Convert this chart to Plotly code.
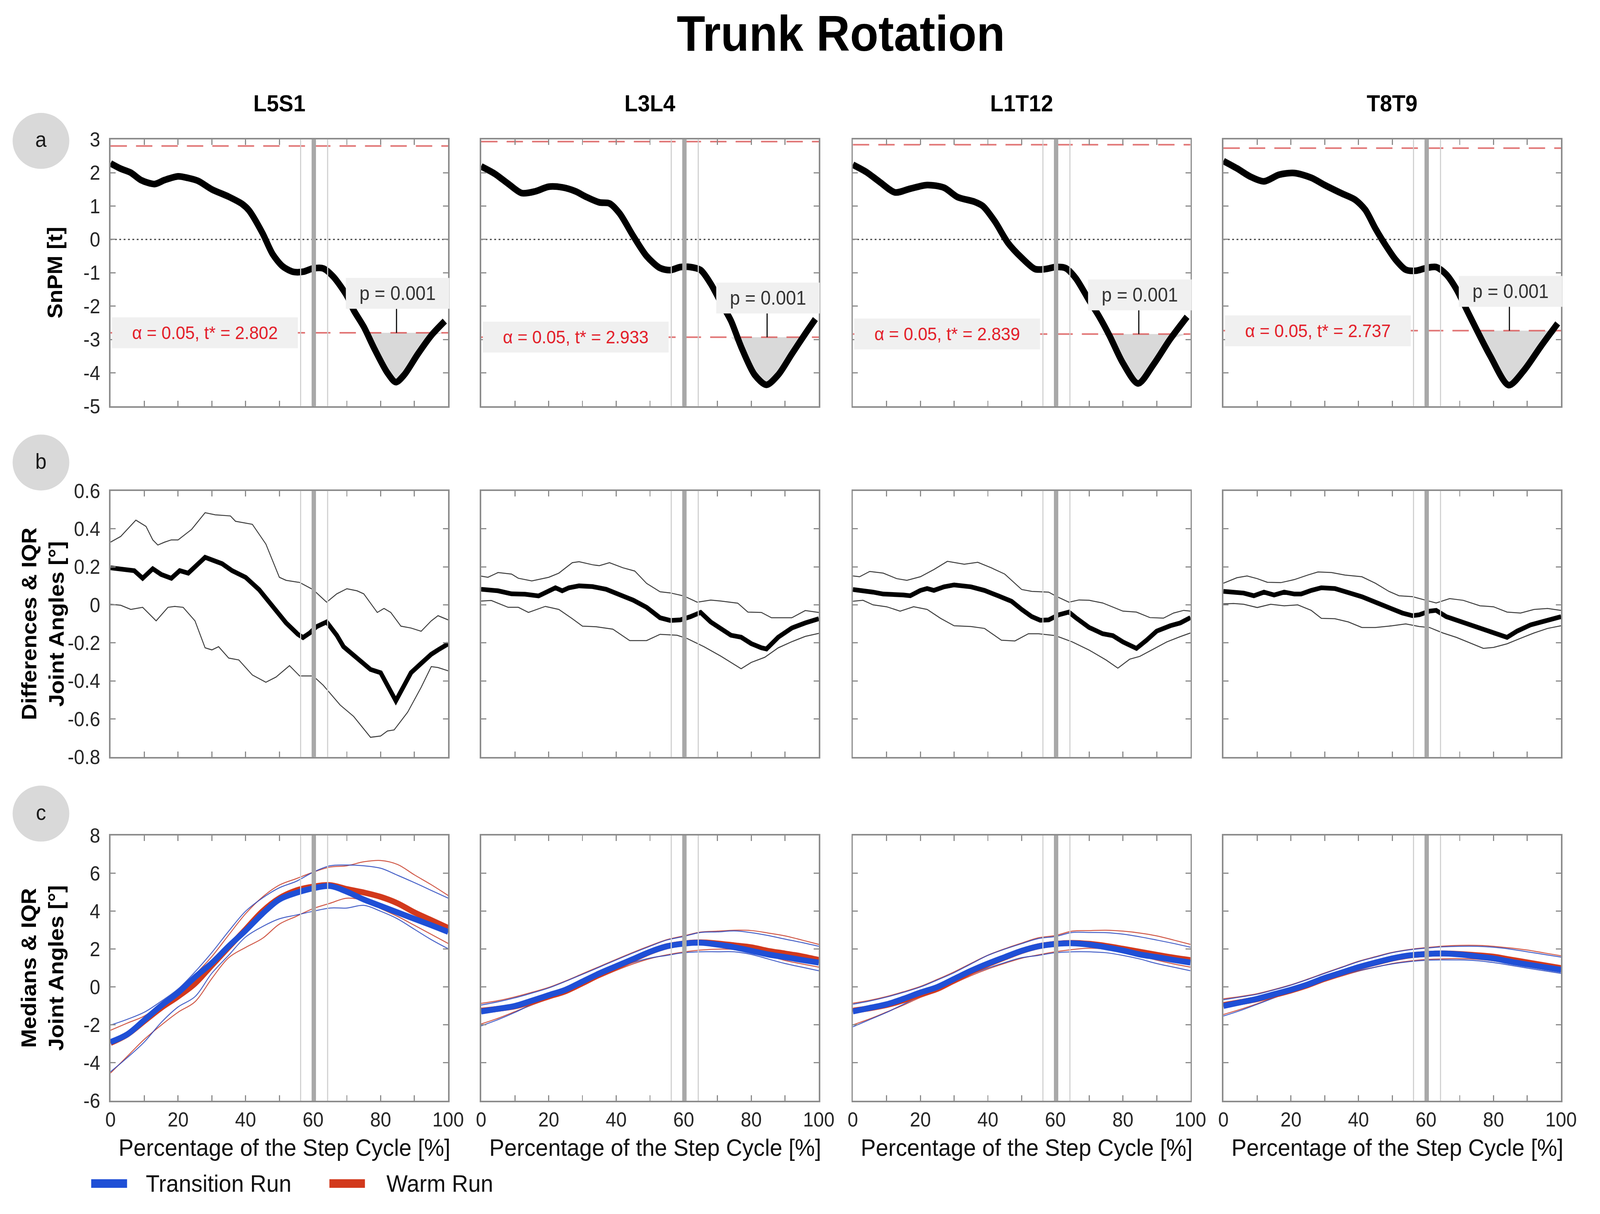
import numpy as np
import plotly.graph_objects as go

W, H = 4402, 3108
FONT = "Liberation Sans"

TITLE = "Trunk Rotation"
SEGMENTS = ["L5S1", "L3L4", "L1T12", "T8T9"]
T_STAR = [2.802, 2.933, 2.839, 2.737]
P_TEXT = ["p = 0.001", "p = 0.001", "p = 0.001", "p = 0.001"]
EVENT_THIN = [56.3, 64.3]
EVENT_THICK = [60.2]
X_LABEL = "Percentage of the Step Cycle [%]"
ROW_LETTERS = ["a", "b", "c"]
ROW_TITLES = ["SnPM [t]", "Differences & IQR<br>Joint Angles [°]", "Medians & IQR<br>Joint Angles [°]"]
LEGEND_NAMES = ["Transition Run", "Warm Run"]

# ---------------- row a : SnPM t-curves ----------------
A_X_L5S1 = [0, 3, 6, 9, 13, 16, 20, 23, 26, 30, 35, 39, 41, 45, 48, 51, 54, 57, 60, 63, 66, 70, 72, 75, 78, 82, 84.5, 87, 91, 95, 99]
A_Y_L5S1 = [2.28, 2.12, 2.0, 1.78, 1.66, 1.78, 1.89, 1.84, 1.75, 1.5, 1.28, 1.06, 0.87, 0.19, -0.44, -0.81, -0.97, -0.97, -0.87, -0.87, -1.12, -1.69, -2.12, -2.62, -3.25, -4.0, -4.28, -4.06, -3.44, -2.88, -2.45]
A_X_L3L4 = [0, 4, 8, 12, 16, 20, 24, 28, 31, 35, 38, 41, 45, 49, 53, 56, 59, 62, 65, 68, 71, 74, 77, 81, 84.5, 88, 92, 96, 99]
A_Y_L3L4 = [2.19, 1.97, 1.67, 1.39, 1.44, 1.58, 1.56, 1.44, 1.28, 1.11, 1.08, 0.78, 0.11, -0.5, -0.86, -0.92, -0.83, -0.83, -0.92, -1.33, -1.89, -2.44, -3.22, -4.06, -4.36, -4.06, -3.44, -2.83, -2.39]
A_X_L1T12 = [0, 4, 8, 12.5, 17, 22, 27, 31, 36, 38.5, 42, 46, 50, 54, 57, 60, 63, 66, 70, 73, 76, 80, 84.5, 89, 94, 99]
A_Y_L1T12 = [2.24, 2.02, 1.72, 1.41, 1.52, 1.63, 1.55, 1.27, 1.13, 1.0, 0.55, -0.11, -0.55, -0.89, -0.89, -0.83, -0.86, -1.16, -1.83, -2.32, -2.88, -3.71, -4.32, -3.76, -2.99, -2.32]
A_X_T8T9 = [0, 4, 8, 12, 16.5, 21, 26, 30, 35, 39, 42, 45, 48, 51, 54, 57, 60, 63, 66, 69, 72, 75, 79, 84.5, 89, 94, 99]
A_Y_T8T9 = [2.35, 2.13, 1.88, 1.74, 1.94, 1.99, 1.85, 1.63, 1.38, 1.19, 0.89, 0.33, -0.17, -0.61, -0.91, -0.94, -0.86, -0.83, -1.05, -1.49, -2.10, -2.71, -3.49, -4.37, -3.93, -3.21, -2.52]
P_LINE_X = [84.7, 84.7, 84.7, 84.7]

# ---------------- row b : differences & IQR ----------------
B_MED_X_L5S1 = [0, 4, 7, 9.5, 12.5, 15, 18, 20.5, 23, 28, 33, 36, 40, 44, 48, 52, 55.5, 57, 59, 61, 64, 67, 69, 73, 77, 80, 82, 84.5, 87, 89, 92, 95, 97, 100]
B_MED_Y_L5S1 = [0.195, 0.187, 0.18, 0.14, 0.19, 0.16, 0.14, 0.18, 0.167, 0.25, 0.217, 0.18, 0.145, 0.08, -0.008, -0.095, -0.155, -0.172, -0.148, -0.115, -0.09, -0.16, -0.22, -0.28, -0.34, -0.357, -0.423, -0.505, -0.423, -0.357, -0.308, -0.26, -0.237, -0.205]
B_UP_X_L5S1 = [0, 3, 7.5, 10.5, 12.5, 14, 16, 18, 20, 24, 28, 31, 35.5, 37, 42, 46, 50, 52, 56, 60, 64, 67, 70, 73, 75, 79, 81, 83, 86, 89, 92, 95, 97, 100]
B_UP_Y_L5S1 = [0.33, 0.36, 0.446, 0.413, 0.342, 0.315, 0.33, 0.342, 0.342, 0.397, 0.485, 0.474, 0.468, 0.44, 0.424, 0.32, 0.145, 0.129, 0.118, 0.08, 0.014, 0.058, 0.085, 0.074, 0.058, -0.04, -0.019, -0.04, -0.112, -0.122, -0.139, -0.084, -0.057, -0.079]
B_LO_X_L5S1 = [0, 3, 6, 9.5, 13.5, 17, 19, 21.5, 25, 28, 30, 32, 35, 38, 42, 46, 49, 53, 56, 60, 63, 68, 72, 77, 80, 82, 84, 88, 92, 95, 97, 100]
B_LO_Y_L5S1 = [0.003, -0.002, -0.024, -0.013, -0.084, -0.013, -0.008, -0.013, -0.084, -0.226, -0.237, -0.22, -0.28, -0.29, -0.369, -0.407, -0.38, -0.32, -0.374, -0.374, -0.423, -0.527, -0.587, -0.697, -0.69, -0.664, -0.658, -0.565, -0.434, -0.325, -0.33, -0.347]

B_MED_X_L3L4 = [0, 5, 9, 13, 17, 19.5, 22, 24, 26, 29, 33, 37, 41, 45, 49, 53, 56, 59, 62, 65, 68, 71, 74, 77, 80, 83, 84.5, 88, 92, 96, 100]
B_MED_Y_L3L4 = [0.082, 0.074, 0.058, 0.056, 0.047, 0.071, 0.09, 0.074, 0.09, 0.10, 0.096, 0.082, 0.052, 0.025, -0.013, -0.068, -0.082, -0.079, -0.062, -0.04, -0.09, -0.128, -0.16, -0.17, -0.204, -0.226, -0.232, -0.17, -0.122, -0.095, -0.073]
B_UP_X_L3L4 = [0, 2, 5, 9, 11, 15, 20, 23, 27, 29, 33, 35, 38, 42, 45.5, 49, 53, 56, 60, 64, 68, 71, 76, 79, 83, 86, 92, 96, 100]
B_UP_Y_L3L4 = [0.151, 0.145, 0.17, 0.162, 0.14, 0.126, 0.145, 0.167, 0.222, 0.227, 0.211, 0.206, 0.222, 0.195, 0.178, 0.113, 0.069, 0.063, 0.047, 0.014, 0.025, 0.02, 0.009, -0.038, -0.04, -0.068, -0.068, -0.03, -0.04]
B_LO_X_L3L4 = [0, 3, 8, 11, 14, 19, 23, 27, 30, 34, 39, 44, 49, 53, 58, 61, 66, 71, 77, 80, 84, 88, 92, 96, 100]
B_LO_Y_L3L4 = [0.02, 0.023, -0.013, -0.013, -0.04, -0.008, -0.024, -0.073, -0.112, -0.115, -0.128, -0.188, -0.188, -0.155, -0.16, -0.177, -0.22, -0.27, -0.336, -0.303, -0.276, -0.226, -0.194, -0.166, -0.15]

B_MED_X_L1T12 = [0, 3, 6, 9, 12, 15, 17, 20, 22, 24, 27, 30, 35, 39, 43, 47, 50, 53, 55.5, 58, 61, 64, 66, 70, 74, 77, 80, 84, 87, 90, 94, 97, 100]
B_MED_Y_L1T12 = [0.081, 0.076, 0.067, 0.057, 0.057, 0.052, 0.048, 0.076, 0.086, 0.076, 0.095, 0.105, 0.095, 0.076, 0.048, 0.019, -0.024, -0.062, -0.081, -0.079, -0.052, -0.038, -0.067, -0.119, -0.152, -0.162, -0.195, -0.229, -0.186, -0.138, -0.11, -0.095, -0.067]
B_UP_X_L1T12 = [0, 2, 5, 9, 13, 16, 20, 24, 28, 33, 37, 41, 45, 50, 53, 58, 60.5, 64, 67, 70, 74, 80, 84, 88, 92, 95, 98, 100]
B_UP_Y_L1T12 = [0.152, 0.148, 0.176, 0.167, 0.138, 0.129, 0.148, 0.186, 0.229, 0.214, 0.224, 0.195, 0.162, 0.081, 0.071, 0.067, 0.043, 0.014, 0.026, 0.024, 0.01, -0.033, -0.038, -0.067, -0.07, -0.043, -0.029, -0.033]
B_LO_X_L1T12 = [0, 3, 6, 10, 14, 18, 22, 26, 30, 35, 39, 44, 48, 52, 55, 60, 65, 70, 75, 78.5, 82, 85, 89, 93, 97, 100]
B_LO_Y_L1T12 = [0.019, 0.024, 0.0, -0.01, -0.033, -0.01, -0.024, -0.071, -0.11, -0.114, -0.124, -0.186, -0.19, -0.152, -0.152, -0.162, -0.195, -0.238, -0.29, -0.333, -0.286, -0.271, -0.233, -0.195, -0.167, -0.148]

B_MED_X_T8T9 = [0, 3, 6, 9, 12, 15, 18, 21, 23, 26, 29, 33, 37, 41, 45, 49, 53, 56, 58, 61, 63, 66, 70, 74, 77, 81, 84, 87, 91, 95, 100]
B_MED_Y_T8T9 = [0.071, 0.067, 0.062, 0.048, 0.067, 0.052, 0.067, 0.057, 0.057, 0.076, 0.09, 0.086, 0.067, 0.043, 0.014, -0.014, -0.043, -0.057, -0.052, -0.033, -0.029, -0.062, -0.086, -0.11, -0.129, -0.157, -0.171, -0.138, -0.105, -0.086, -0.062]
B_UP_X_T8T9 = [0, 4, 7, 10, 13, 17, 21, 25, 28, 32, 36, 41, 45, 49, 52, 56, 60, 63, 67, 71, 76, 80, 84, 88, 92, 96, 100]
B_UP_Y_T8T9 = [0.114, 0.143, 0.152, 0.138, 0.119, 0.117, 0.133, 0.157, 0.173, 0.17, 0.157, 0.148, 0.114, 0.071, 0.048, 0.043, 0.024, 0.01, 0.033, 0.024, -0.005, -0.01, -0.038, -0.043, -0.024, -0.019, -0.029]
B_LO_X_T8T9 = [0, 3, 6, 10, 14, 18, 22, 26, 29, 33, 37, 41, 45, 50, 54, 58, 61, 65, 69, 73, 77, 80, 84, 88, 92, 96, 100]
B_LO_Y_T8T9 = [0.005, 0.007, 0.003, -0.014, 0.003, -0.005, 0.0, -0.029, -0.071, -0.073, -0.09, -0.119, -0.119, -0.11, -0.1, -0.114, -0.119, -0.148, -0.171, -0.2, -0.229, -0.224, -0.205, -0.176, -0.148, -0.124, -0.11]

# ---------------- row c : medians & IQR ----------------
PCT = [0, 5, 10, 15, 20, 25, 30, 35, 40, 45, 50, 55, 60, 65, 70, 75, 80, 85, 90, 95, 100]

C_TR_MED_L5S1 = [-2.9, -2.49, -1.74, -0.98, -0.30, 0.52, 1.27, 2.16, 2.98, 3.87, 4.62, 4.97, 5.21, 5.33, 5.03, 4.62, 4.28, 3.94, 3.6, 3.26, 2.91]
C_TR_UP_L5S1 = [-2.01, -1.7, -1.33, -0.75, -0.1, 0.8, 1.82, 2.95, 4.0, 4.7, 5.24, 5.58, 6.06, 6.4, 6.44, 6.4, 6.27, 5.9, 5.51, 5.1, 4.69]
C_TR_LO_L5S1 = [-4.47, -3.72, -2.9, -1.87, -1.05, -0.51, 0.73, 1.68, 2.64, 3.19, 3.6, 3.8, 4.0, 4.17, 4.17, 4.31, 4.0, 3.6, 3.05, 2.5, 2.02]
C_WR_MED_L5S1 = [-2.95, -2.5, -1.8, -1.1, -0.5, 0.18, 1.14, 2.1, 3.05, 4.0, 4.69, 5.1, 5.3, 5.38, 5.17, 4.99, 4.76, 4.42, 3.94, 3.53, 3.12]
C_WR_UP_L5S1 = [-2.28, -1.9, -1.53, -0.9, -0.23, 0.65, 1.61, 2.75, 3.87, 4.75, 5.38, 5.72, 6.06, 6.33, 6.4, 6.61, 6.68, 6.47, 5.92, 5.4, 4.83]
C_WR_LO_L5S1 = [-4.54, -3.65, -2.76, -2.01, -1.33, -0.78, 0.45, 1.55, 2.09, 2.57, 3.32, 3.73, 4.14, 4.42, 4.69, 4.56, 4.14, 3.73, 3.26, 2.78, 2.3]

C_TR_MED_L3L4 = [-1.29, -1.15, -1.0, -0.72, -0.43, -0.14, 0.29, 0.72, 1.1, 1.48, 1.86, 2.15, 2.29, 2.34, 2.24, 2.1, 1.91, 1.72, 1.58, 1.43, 1.29]
C_TR_UP_L3L4 = [-0.95, -0.78, -0.57, -0.32, -0.05, 0.3, 0.67, 1.05, 1.43, 1.8, 2.15, 2.48, 2.67, 2.88, 2.91, 2.96, 2.87, 2.72, 2.53, 2.35, 2.15]
C_TR_LO_L3L4 = [-2.05, -1.72, -1.34, -0.91, -0.53, -0.24, 0.19, 0.57, 0.96, 1.29, 1.53, 1.67, 1.81, 1.86, 1.86, 1.86, 1.72, 1.48, 1.24, 1.05, 0.86]
C_WR_MED_L3L4 = [-1.25, -1.15, -1.02, -0.78, -0.5, -0.22, 0.2, 0.65, 1.05, 1.45, 1.85, 2.15, 2.3, 2.36, 2.3, 2.2, 2.1, 1.91, 1.77, 1.62, 1.43]
C_WR_UP_L3L4 = [-0.86, -0.72, -0.52, -0.28, -0.02, 0.32, 0.7, 1.08, 1.46, 1.83, 2.18, 2.5, 2.7, 2.9, 2.95, 3.0, 2.98, 2.85, 2.7, 2.48, 2.25]
C_WR_LO_L3L4 = [-1.95, -1.65, -1.3, -0.95, -0.62, -0.32, 0.1, 0.5, 0.88, 1.22, 1.5, 1.7, 1.85, 1.95, 2.0, 1.98, 1.85, 1.65, 1.4, 1.22, 1.05]

C_TR_MED_L1T12 = [-1.29, -1.1, -0.91, -0.62, -0.29, 0.0, 0.43, 0.86, 1.24, 1.58, 1.91, 2.15, 2.27, 2.31, 2.24, 2.1, 1.93, 1.72, 1.58, 1.43, 1.29]
C_TR_UP_L1T12 = [-0.91, -0.74, -0.53, -0.28, 0.0, 0.37, 0.76, 1.22, 1.67, 2.0, 2.29, 2.56, 2.67, 2.88, 2.88, 2.87, 2.79, 2.65, 2.48, 2.3, 2.1]
C_TR_LO_L1T12 = [-2.1, -1.72, -1.34, -0.91, -0.48, -0.14, 0.29, 0.67, 1.0, 1.29, 1.55, 1.67, 1.81, 1.86, 1.86, 1.81, 1.67, 1.48, 1.24, 1.05, 0.86]
C_WR_MED_L1T12 = [-1.25, -1.12, -0.95, -0.7, -0.38, -0.1, 0.35, 0.8, 1.2, 1.56, 1.9, 2.15, 2.28, 2.33, 2.28, 2.17, 2.02, 1.86, 1.7, 1.55, 1.42]
C_WR_UP_L1T12 = [-0.85, -0.7, -0.5, -0.25, 0.03, 0.4, 0.8, 1.25, 1.68, 2.02, 2.32, 2.6, 2.72, 2.95, 2.98, 3.0, 2.95, 2.85, 2.7, 2.48, 2.25]
C_WR_LO_L1T12 = [-2.0, -1.68, -1.32, -0.95, -0.55, -0.22, 0.2, 0.6, 0.95, 1.25, 1.52, 1.7, 1.86, 1.98, 2.05, 2.0, 1.85, 1.65, 1.42, 1.22, 1.05]

C_TR_MED_T8T9 = [-1.0, -0.81, -0.62, -0.38, -0.14, 0.14, 0.48, 0.76, 1.05, 1.29, 1.51, 1.67, 1.74, 1.77, 1.72, 1.62, 1.51, 1.34, 1.19, 1.05, 0.91]
C_TR_UP_T8T9 = [-0.67, -0.53, -0.38, -0.15, 0.1, 0.4, 0.72, 1.03, 1.34, 1.58, 1.81, 1.96, 2.05, 2.12, 2.15, 2.15, 2.1, 2.0, 1.86, 1.72, 1.58]
C_TR_LO_T8T9 = [-1.53, -1.24, -0.91, -0.57, -0.24, 0.05, 0.33, 0.62, 0.86, 1.05, 1.22, 1.34, 1.41, 1.43, 1.43, 1.39, 1.29, 1.15, 1.0, 0.86, 0.72]
C_WR_MED_T8T9 = [-0.95, -0.8, -0.64, -0.42, -0.18, 0.1, 0.44, 0.74, 1.03, 1.28, 1.5, 1.66, 1.74, 1.77, 1.74, 1.68, 1.6, 1.45, 1.3, 1.15, 1.0]
C_WR_UP_T8T9 = [-0.62, -0.5, -0.35, -0.13, 0.12, 0.42, 0.74, 1.05, 1.36, 1.6, 1.83, 1.98, 2.08, 2.16, 2.2, 2.2, 2.15, 2.06, 1.95, 1.8, 1.65]
C_WR_LO_T8T9 = [-1.45, -1.18, -0.88, -0.56, -0.25, 0.03, 0.3, 0.58, 0.84, 1.05, 1.24, 1.37, 1.45, 1.49, 1.5, 1.47, 1.38, 1.24, 1.08, 0.93, 0.8]

# ---------------- axes ticks ----------------
X_TICKS = [0, 10, 20, 30, 40, 50, 60, 70, 80, 90, 100]
X_TICKTEXT = ["0", "", "20", "", "40", "", "60", "", "80", "", "100"]
A_TICKS = [3, 2, 1, 0, -1, -2, -3, -4, -5]
B_TICKS = [0.6, 0.4, 0.2, 0, -0.2, -0.4, -0.6, -0.8]
C_TICKS = [8, 6, 4, 2, 0, -2, -4, -6]
Y_RANGES = [[-5, 3], [-0.8, 0.6], [-6, 8]]
Y_TICKS = [A_TICKS, B_TICKS, C_TICKS]

A_DATA = [(A_X_L5S1, A_Y_L5S1), (A_X_L3L4, A_Y_L3L4), (A_X_L1T12, A_Y_L1T12), (A_X_T8T9, A_Y_T8T9)]
B_DATA = [
    (B_MED_X_L5S1, B_MED_Y_L5S1, B_UP_X_L5S1, B_UP_Y_L5S1, B_LO_X_L5S1, B_LO_Y_L5S1),
    (B_MED_X_L3L4, B_MED_Y_L3L4, B_UP_X_L3L4, B_UP_Y_L3L4, B_LO_X_L3L4, B_LO_Y_L3L4),
    (B_MED_X_L1T12, B_MED_Y_L1T12, B_UP_X_L1T12, B_UP_Y_L1T12, B_LO_X_L1T12, B_LO_Y_L1T12),
    (B_MED_X_T8T9, B_MED_Y_T8T9, B_UP_X_T8T9, B_UP_Y_T8T9, B_LO_X_T8T9, B_LO_Y_T8T9),
]
C_DATA = [
    (C_TR_MED_L5S1, C_TR_UP_L5S1, C_TR_LO_L5S1, C_WR_MED_L5S1, C_WR_UP_L5S1, C_WR_LO_L5S1),
    (C_TR_MED_L3L4, C_TR_UP_L3L4, C_TR_LO_L3L4, C_WR_MED_L3L4, C_WR_UP_L3L4, C_WR_LO_L3L4),
    (C_TR_MED_L1T12, C_TR_UP_L1T12, C_TR_LO_L1T12, C_WR_MED_L1T12, C_WR_UP_L1T12, C_WR_LO_L1T12),
    (C_TR_MED_T8T9, C_TR_UP_T8T9, C_TR_LO_T8T9, C_WR_MED_T8T9, C_WR_UP_T8T9, C_WR_LO_T8T9),
]

# ---------------- styling / layout (pixels) ----------------
BLUE = "#1f4fd6"
RED = "#d2391c"
BLUE_THIN = "rgba(40,70,190,0.85)"
RED_THIN = "rgba(200,60,40,0.85)"
AXIS_GRAY = "#8c8c8c"
TICK_COLOR = "#262626"

COL_LEFT = [294, 1327, 2363, 3396]
COL_W = 941
ROW_BOX = [(334, 1030), (1251, 1945), (2150, 2842)]


def px_x(p):
    return p / W


def px_y(p):
    return 1 - p / H


fig = go.Figure()
layout = dict(
    width=W, height=H, margin=dict(l=0, r=0, t=0, b=0),
    paper_bgcolor="white", plot_bgcolor="white", showlegend=False,
    font=dict(family=FONT, color=TICK_COLOR),
)
shapes = []
annotations = []


def ax_names(n):
    return ("x" if n == 1 else f"x{n}"), ("y" if n == 1 else f"y{n}")


def note(x, y, text, size, color="black", xanchor="center", **kw):
    d = dict(x=x, y=y, xref="paper", yref="paper", showarrow=False, text=text,
             xanchor=xanchor, yanchor="middle",
             font=dict(family=FONT, size=size, color=color))
    d.update(kw)
    return d


for r in range(3):
    for c in range(4):
        n = r * 4 + c + 1
        xn, yn = ax_names(n)
        xkey = "xaxis" if n == 1 else f"xaxis{n}"
        ykey = "yaxis" if n == 1 else f"yaxis{n}"
        top, bot = ROW_BOX[r]
        common = dict(showline=True, linecolor=AXIS_GRAY, linewidth=4, mirror="ticks",
                      ticks="inside", ticklen=14, tickwidth=3, tickcolor=AXIS_GRAY,
                      showgrid=False, zeroline=False,
                      tickfont=dict(family=FONT, size=52, color=TICK_COLOR))
        layout[xkey] = dict(common, domain=[px_x(COL_LEFT[c]), px_x(COL_LEFT[c] + COL_W)],
                            range=[0, 100], anchor=yn, tickmode="array",
                            tickvals=X_TICKS, ticktext=X_TICKTEXT,
                            showticklabels=(r == 2), ticklabelstandoff=0)
        layout[ykey] = dict(common, domain=[px_y(bot), px_y(top)], range=Y_RANGES[r],
                            anchor=xn, tickmode="array", tickvals=Y_TICKS[r],
                            ticktext=["%g" % v for v in Y_TICKS[r]],
                            showticklabels=(c == 0), ticklabelstandoff=14)

        if r == 0:
            xs, ys = A_DATA[c]
            t = T_STAR[c]
            clip = np.minimum(np.array(ys), -t)
            fig.add_trace(go.Scatter(x=list(xs) + list(xs)[::-1],
                                     y=list(clip) + [-t] * len(xs), fill="toself",
                                     fillcolor="#d9d9d9", mode="lines", line=dict(width=0),
                                     xaxis=xn, yaxis=yn, hoverinfo="skip"))
            fig.add_trace(go.Scatter(x=[0, 100], y=[0, 0], mode="lines",
                                     line=dict(color="#3a3a3a", width=3, dash="5px,7px"),
                                     xaxis=xn, yaxis=yn))
            for tv in (t, -t):
                fig.add_trace(go.Scatter(x=[0, 100], y=[tv, tv], mode="lines",
                                         line=dict(color="rgba(215,70,70,0.75)", width=4,
                                                   dash="45px,25px"),
                                         xaxis=xn, yaxis=yn))
            fig.add_trace(go.Scatter(x=xs, y=ys, mode="lines",
                                     line=dict(color="black", width=17, shape="spline", smoothing=0.8),
                                     xaxis=xn, yaxis=yn))
            fig.add_trace(go.Scatter(x=[P_LINE_X[c], P_LINE_X[c]], y=[-t + 0.72, -t], mode="lines",
                                     line=dict(color="black", width=3), xaxis=xn, yaxis=yn))
            annotations.append(dict(x=28, y=-t, xref=xn, yref=yn, xanchor="center", yanchor="middle",
                                    text=f"α = 0.05, t* = {t:.3f}", showarrow=False,
                                    width=508, height=76, bgcolor="#f0f0f0",
                                    font=dict(family=FONT, size=47, color="#e3202a")))
            annotations.append(dict(x=85, y=-t + 1.18, xref=xn, yref=yn, xanchor="center", yanchor="middle",
                                    text=P_TEXT[c], showarrow=False,
                                    width=282, height=76, bgcolor="#f0f0f0",
                                    font=dict(family=FONT, size=50, color="#333333")))
        elif r == 1:
            mx, my, ux, uy, lx, ly = B_DATA[c]
            for xx, yy in ((ux, uy), (lx, ly)):
                fig.add_trace(go.Scatter(x=xx, y=yy, mode="lines",
                                         line=dict(color="#3c3c3c", width=2.5),
                                         xaxis=xn, yaxis=yn))
            fig.add_trace(go.Scatter(x=mx, y=my, mode="lines",
                                     line=dict(color="black", width=12),
                                     xaxis=xn, yaxis=yn))
        else:
            tr_med, tr_up, tr_lo, wr_med, wr_up, wr_lo = C_DATA[c]
            for yy in (wr_up, wr_lo):
                fig.add_trace(go.Scatter(x=PCT, y=yy, mode="lines",
                                         line=dict(color=RED_THIN, width=2.5, shape="spline"),
                                         xaxis=xn, yaxis=yn))
            for yy in (tr_up, tr_lo):
                fig.add_trace(go.Scatter(x=PCT, y=yy, mode="lines",
                                         line=dict(color=BLUE_THIN, width=2.5, shape="spline"),
                                         xaxis=xn, yaxis=yn))
            fig.add_trace(go.Scatter(x=PCT, y=wr_med, mode="lines",
                                     line=dict(color=RED, width=15, shape="spline"),
                                     xaxis=xn, yaxis=yn))
            fig.add_trace(go.Scatter(x=PCT, y=tr_med, mode="lines",
                                     line=dict(color=BLUE, width=15, shape="spline"),
                                     xaxis=xn, yaxis=yn))

        # event markers
        for ex in EVENT_THIN:
            shapes.append(dict(type="line", xref=xn, yref=f"{yn} domain", x0=ex, x1=ex, y0=0, y1=1,
                               line=dict(color="#cfcfcf", width=3), layer="above"))
        for ex in EVENT_THICK:
            shapes.append(dict(type="line", xref=xn, yref=f"{yn} domain", x0=ex, x1=ex, y0=0, y1=1,
                               line=dict(color="#a8a8a8", width=12), layer="above"))

# title & column headers
annotations.append(note(px_x(2330), px_y(58), f"<b>{TITLE}</b>", 128))
for c, name in enumerate(SEGMENTS):
    cx = COL_LEFT[c] + COL_W / 2
    annotations.append(note(px_x(cx), px_y(240), f"<b>{name}</b>", 60))
    annotations.append(note(px_x(cx + 14), px_y(2964), X_LABEL, 62, color="#111111"))

# row letters and y titles
CIRCLE_Y = [338, 1177, 2093]
TITLE_X = [138, 104, 104]
for r in range(3):
    cy = CIRCLE_Y[r]
    shapes.append(dict(type="circle", xref="paper", yref="paper",
                       x0=px_x(21), x1=px_x(179), y0=px_y(cy + 73), y1=px_y(cy - 73),
                       fillcolor="#d9d9d9", line=dict(width=0), layer="below"))
    annotations.append(note(px_x(100), px_y(cy - 4), ROW_LETTERS[r], 56, color="#1a1a1a"))
    top, bot = ROW_BOX[r]
    annotations.append(note(px_x(TITLE_X[r]), px_y((top + bot) / 2), f"<b>{ROW_TITLES[r]}</b>", 58,
                            textangle=-90))

# legend
LEG = [(240, 340, 390, BLUE, LEGEND_NAMES[0]), (904, 1003, 1061, RED, LEGEND_NAMES[1])]
for x0, x1, tx, col, name in LEG:
    shapes.append(dict(type="line", xref="paper", yref="paper", x0=px_x(x0), x1=px_x(x1),
                       y0=px_y(3058), y1=px_y(3058), line=dict(color=col, width=22)))
    annotations.append(note(px_x(tx), px_y(3058), name, 62, color="#111111", xanchor="left"))

layout["shapes"] = shapes
layout["annotations"] = annotations
fig.update_layout(**layout)

# scale the fixed-size figure so that it fills the browser viewport exactly
FIT_JS = """
(function(){
  var gd = document.getElementById('{plot_id}');
  document.documentElement.style.margin = '0';
  document.body.style.margin = '0';
  document.body.style.overflow = 'hidden';
  var sx = window.innerWidth / 4402, sy = window.innerHeight / 3108;
  if (Math.abs(sx - 1) > 0.002 || Math.abs(sy - 1) > 0.002) {
    gd.style.transformOrigin = '0 0';
    gd.style.transform = 'scale(' + sx + ',' + sy + ')';
  }
})();
"""
fig.write_html("out.html", post_script=FIT_JS, config={"displayModeBar": False})
